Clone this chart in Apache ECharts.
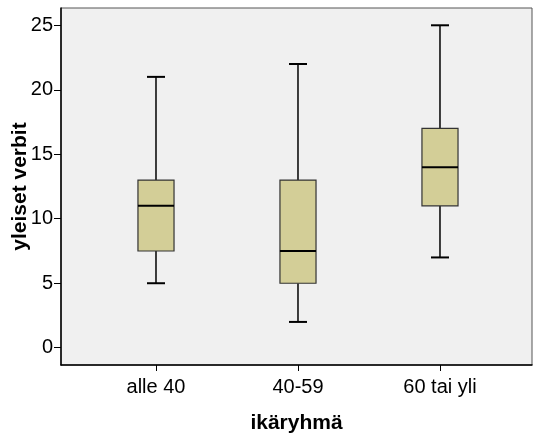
<!DOCTYPE html>
<html>
<head>
<meta charset="utf-8">
<script src="https://cdn.jsdelivr.net/npm/echarts@6/dist/echarts.min.js"></script>
<style>html,body{margin:0;padding:0;background:#fff;}#c{width:533px;height:434px;}</style>
</head>
<body>
<div id="c"></div>
<script>
var categories = ['alle 40', '40-59', '60 tai yli'];
var whiskerLow = [5, 2, 7];
var q1 = [7.5, 5, 11];
var median = [11, 7.5, 14];
var q3 = [13, 13, 17];
var whiskerHigh = [21, 22, 25];
var yTicks = [0, 5, 10, 15, 20, 25];

var data = categories.map(function (c, i) {
  return [i, whiskerLow[i], q1[i], median[i], q3[i], whiskerHigh[i]];
});

var chart = echarts.init(document.getElementById('c'), null, {renderer: 'canvas'});
var fontFam = '"Liberation Sans", Arial, sans-serif';
chart.setOption({
  animation: false,
  backgroundColor: '#ffffff',
  grid: {left: 61, right: 1, top: 8, bottom: 69, containLabel: false, outerBoundsMode: 'none',
    show: true, backgroundColor: '#f0f0f0', borderColor: '#555555', borderWidth: 1},
  xAxis: {
    type: 'value', min: -0.669, max: 2.648,
    name: 'ikäryhmä', nameLocation: 'middle', nameGap: 48, nameMoveOverlap: false,
    nameTextStyle: {fontFamily: fontFam, fontSize: 21, fontWeight: 'bold', color: '#000'},
    axisLine: {show: true, onZero: false, lineStyle: {color: '#000', width: 1.5}},
    axisTick: {show: true, length: 6, customValues: [0, 1, 2], lineStyle: {color: '#000'}},
    axisLabel: {customValues: [0, 1, 2], margin: 12, fontFamily: fontFam, fontSize: 20, color: '#000',
      formatter: function (v) { return categories[Math.round(v)]; }},
    splitLine: {show: false}
  },
  yAxis: {
    type: 'value', min: -1.34, max: 26.34,
    name: 'yleiset verbit', nameLocation: 'middle', nameGap: 30, nameRotate: 90, nameMoveOverlap: false,
    nameTextStyle: {fontFamily: fontFam, fontSize: 21, fontWeight: 'bold', color: '#000'},
    axisLine: {show: true, onZero: false, lineStyle: {color: '#000', width: 1.5}},
    axisTick: {show: true, length: 7, customValues: yTicks, lineStyle: {color: '#000'}},
    axisLabel: {customValues: yTicks, margin: 8, fontFamily: fontFam, fontSize: 20, color: '#000'},
    splitLine: {show: false}
  },
  series: [{
    type: 'custom',
    data: data,
    encode: {x: 0, y: [1, 2, 3, 4, 5]},
    renderItem: function (params, api) {
      var x = api.value(0);
      var unit = api.size([1, 0])[0];
      var bw = unit * 0.254, cw = unit * 0.127;
      var pLo = api.coord([x, api.value(1)]);
      var pQ1 = api.coord([x, api.value(2)]);
      var pMed = api.coord([x, api.value(3)]);
      var pQ3 = api.coord([x, api.value(4)]);
      var pHi = api.coord([x, api.value(5)]);
      var cx = pLo[0];
      var ls = {stroke: '#000', lineWidth: 1.5};
      return {
        type: 'group',
        children: [
          {type: 'line', shape: {x1: cx, y1: pHi[1], x2: cx, y2: pQ3[1]}, style: ls},
          {type: 'line', shape: {x1: cx, y1: pQ1[1], x2: cx, y2: pLo[1]}, style: ls},
          {type: 'line', shape: {x1: cx - cw / 2, y1: pHi[1], x2: cx + cw / 2, y2: pHi[1]}, style: {stroke: '#000', lineWidth: 2}},
          {type: 'line', shape: {x1: cx - cw / 2, y1: pLo[1], x2: cx + cw / 2, y2: pLo[1]}, style: {stroke: '#000', lineWidth: 2}},
          {type: 'rect', shape: {x: cx - bw / 2, y: pQ3[1], width: bw, height: pQ1[1] - pQ3[1]},
            style: {fill: '#d3ce97', stroke: '#333333', lineWidth: 1.2}},
          {type: 'line', shape: {x1: cx - bw / 2, y1: pMed[1], x2: cx + bw / 2, y2: pMed[1]}, style: {stroke: '#000', lineWidth: 2}}
        ]
      };
    }
  }]
});
</script>
</body>
</html>
